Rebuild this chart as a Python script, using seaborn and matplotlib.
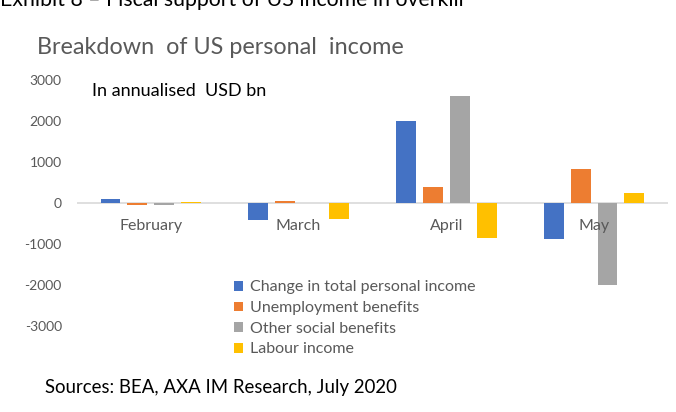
import pandas as pd
import matplotlib.pyplot as plt
import seaborn as sns

sns.set_theme(style="white")
plt.rcParams['font.family'] = ['Lato', 'DejaVu Sans']

months = ["February", "March", "April", "May"]
series = ["Change in total personal income", "Unemployment benefits",
          "Other social benefits", "Labour income"]
total_income = [100, -420, 2000, -880]
unemployment = [-40, 40, 380, 830]
other_social = [-40, 0, 2610, -2000]
labour = [30, -390, -850, 240]
yticks = [-3000, -2000, -1000, 0, 1000, 2000, 3000]

colors = ["#4472C4", "#ED7D31", "#A5A5A5", "#FFC000"]

rows = []
for name, vals in zip(series, [total_income, unemployment, other_social, labour]):
    for m, v in zip(months, vals):
        rows.append({"Month": m, "Series": name, "Value": v})
df = pd.DataFrame(rows)

fig = plt.figure(figsize=(6.76, 4.12), dpi=100)
ax = fig.add_axes([0.114, 0.209, 0.874, 0.597])

sns.barplot(data=df, x="Month", y="Value", hue="Series", order=months,
            hue_order=series, palette=colors, width=0.73, gap=0.26,
            saturation=1, linewidth=0, ax=ax, legend=True)

ax.set_ylim(-3000, 3000)
ax.set_yticks(yticks)
ax.set_yticklabels([str(t) for t in yticks], fontsize=10, color="#595959")
ax.set_xticks([])
ax.set_xlabel("")
ax.set_ylabel("")
for s in ax.spines.values():
    s.set_visible(False)
ax.axhline(0, color="#D9D9D9", lw=1.2, zorder=0.5)
ax.tick_params(axis="y", length=0, pad=11)

for i, m in enumerate(months):
    ax.text(i, -560, m, ha="center", va="center", fontsize=11.5, color="#595959")

ax.text(-0.4, 2730, "In annualised  USD bn", fontsize=13, color="black", va="center")

handles, labels = ax.get_legend_handles_labels()
ax.legend_.remove()
fig.legend(handles, labels, loc="upper left", bbox_to_anchor=(0.337, 0.335),
           frameon=False, fontsize=11.5, labelcolor="#595959", handlelength=0.55,
           handleheight=0.55, handletextpad=0.45, labelspacing=0.42,
           borderaxespad=0)

fig.text(0.055, 1 - 47 / 412, "Breakdown  of US personal  income", fontsize=16.8,
         color="#595959", va="center")
fig.text(0.0, 1 - 6 / 412, "Exhibit 8 \u2013 Fiscal support of US income in overkill",
         fontsize=15.3, color="black", va="baseline")
fig.text(0.066, 1 - 387 / 412, "Sources: BEA, AXA IM Research, July 2020",
         fontsize=13.4, color="black", va="center")

fig.savefig("out.png", dpi=100)
